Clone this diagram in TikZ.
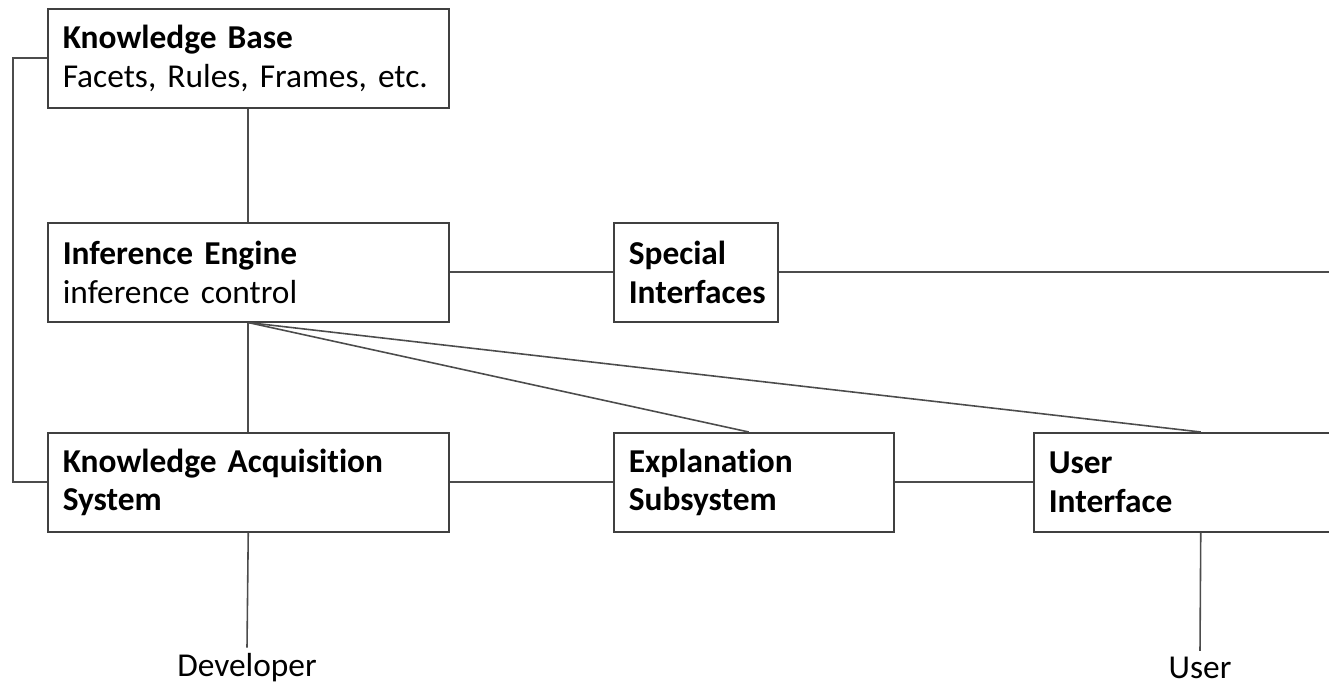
\documentclass[tikz,border=0pt]{standalone}
\usepackage{fontspec}
\setmainfont{Carlito}[Ligatures=NoCommon]
\usetikzlibrary{positioning}
\tikzset{
  box/.style={draw=black!75, line width=0.9pt, anchor=north west,
    minimum height=1.98cm, inner xsep=0.3cm, align=left,
    font=\fontsize{19}{22}\selectfont},
  link/.style={draw=black!70, line width=0.9pt},
  tag/.style={font=\fontsize{19}{21}\selectfont},
}
\begin{document}
\begin{tikzpicture}[x=0.02cm, y=-0.02cm]
  \useasboundingbox (0,0) rectangle (1329,689);
  \clip (0,0) rectangle (1329,689);
  % boxes
  \node[box, text width=7.42cm] (kb) at (47,8)
    {\textbf{Knowledge Base}\\Facets, Rules, Frames, etc.};
  \node[box, text width=7.42cm] (ie) at (47,222)
    {\textbf{Inference Engine}\\inference control};
  \node[box, text width=2.68cm] (si) at (613,222)
    {\textbf{Special}\\\textbf{Interfaces}};
  \node[box, text width=7.42cm] (kas) at (47,432)
    {\textbf{Knowledge Acquisition}\\\textbf{System}};
  \node[box, text width=5.0cm] (expl) at (613,432)
    {\textbf{Explanation}\\\textbf{Subsystem}};
  \node[box, text width=6.08cm] (ui) at (1033,432)
    {\textbf{User}\\\textbf{Interface}};
  % people
  \node[tag] (dev) at (247,668) {Developer};
  \node[tag] (user) at (1200,668) {User};
  \coordinate (rim) at (1329,270);
  % connectors
  \draw[link] (kb.west) -- ++(-34,0) |- (kas.west);
  \draw[link] (kb.south) -- (ie.north);
  \draw[link] (ie.east) -- (si.west);
  \draw[link] (si.east) -- (si.east -| rim);
  \draw[link] (ie.south) -- (kas.north);
  \draw[link] (ie.south) -- ([xshift=-0.1cm]expl.north);
  \draw[link] (ie.south) -- (ui.north);
  \draw[link] (kas.east) -- (expl.west);
  \draw[link] (expl.east) -- (ui.west);
  \draw[link] (kas.south) -- (dev.north);
  \draw[link] (ui.south) -- (user.north);
\end{tikzpicture}
\end{document}
